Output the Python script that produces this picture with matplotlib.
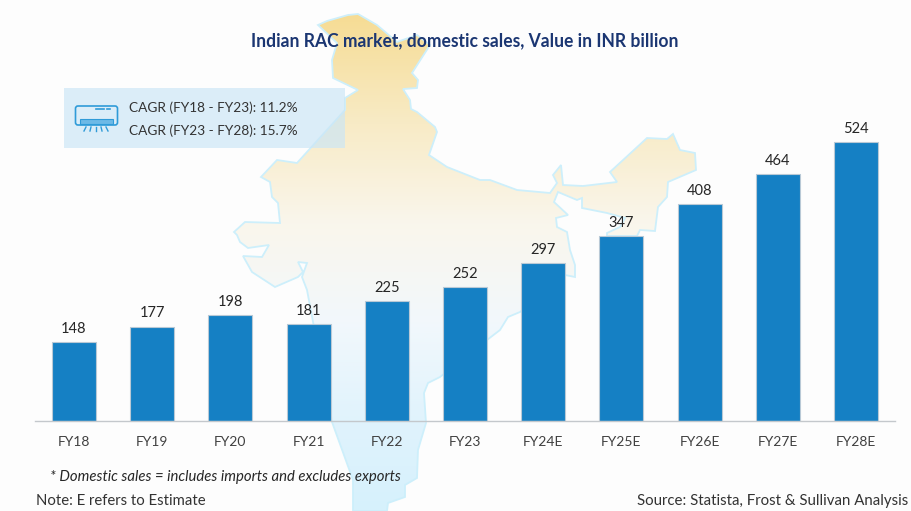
#!/usr/bin/env python3
"""Indian RAC market bar chart drawn over a faded map outline."""

import numpy as np
import matplotlib
matplotlib.use("Agg")
import matplotlib.pyplot as plt
from matplotlib.colors import LinearSegmentedColormap
from matplotlib.patches import Polygon, Rectangle, FancyBboxPatch

plt.rcParams["font.family"] = ["Lato", "DejaVu Sans"]

CATEGORIES = ["FY18", "FY19", "FY20", "FY21", "FY22", "FY23",
              "FY24E", "FY25E", "FY26E", "FY27E", "FY28E"]
VALUES = [148, 177, 198, 181, 225, 252, 297, 347, 408, 464, 524]

TITLE = "Indian RAC market, domestic sales, Value in INR billion"
CAGR_LINES = ["CAGR (FY18 - FY23): 11.2%", "CAGR (FY23 - FY28): 15.7%"]
FOOTNOTE = "* Domestic sales = includes imports and excludes exports"
NOTE = "Note: E refers to Estimate"
SOURCE = "Source: Statista, Frost & Sullivan Analysis"

# map outline, traced in image pixels
INDIA_X = [318, 327, 348, 358, 377, 397, 417, 430, 412, 418, 417, 403, 410, 411, 417,
           435, 437, 429, 447, 480, 490, 517, 550, 557, 553, 561, 563, 583, 617, 610,
           647, 667, 673, 680, 695, 696, 668, 667, 658, 655, 640, 637, 607, 607, 620,
           625, 607, 582, 582, 577, 558, 554, 568, 556, 557, 567, 570, 575, 575, 565,
           520, 508, 500, 487, 440, 428, 424, 426, 418, 417, 405, 405, 388, 387, 353,
           353, 332, 307, 302, 307, 298, 303, 298, 275, 252, 243, 262, 269, 248, 240,
           237, 234, 245, 280, 278, 272, 270, 261, 277, 297, 345, 345, 358, 333, 332,
           337]
INDIA_Y = [25, 21, 15, 14, 25, 42, 35, 45, 73, 80, 88, 89, 100, 109, 112,
           127, 132, 155, 167, 180, 180, 190, 193, 183, 175, 165, 185, 186, 182, 172,
           138, 139, 134, 150, 153, 170, 182, 197, 207, 231, 230, 236, 236, 233, 227,
           218, 213, 208, 198, 200, 192, 202, 215, 218, 227, 232, 250, 265, 277, 275,
           312, 317, 330, 340, 377, 383, 393, 423, 450, 478, 485, 497, 503, 511, 511,
           480, 422, 290, 277, 263, 262, 272, 277, 287, 272, 256, 257, 245, 248, 242,
           235, 232, 222, 223, 203, 197, 182, 177, 160, 163, 110, 98, 90, 78, 60,
           43]


def draw_map(bg):
    cmap = LinearSegmentedColormap.from_list(
        "map", [(0.0, "#F6DC94"), (0.22, "#F8EBC6"), (0.42, "#FAF6EC"),
                (0.62, "#F2F8FC"), (0.82, "#E0F3FC"), (1.0, "#D6F1FD")])
    grad = np.linspace(0, 1, 256).reshape(-1, 1)
    im = bg.imshow(grad, cmap=cmap, extent=(230, 700, 511, 14), aspect="auto", zorder=1)
    shape = Polygon(np.column_stack([INDIA_X, INDIA_Y]), closed=True, transform=bg.transData,
                    facecolor="none", edgecolor="#CDEFFB", linewidth=1.3, zorder=2)
    bg.add_patch(shape)
    im.set_clip_path(shape)


def draw_ac_icon(bg):
    c = "#2F9BD8"
    bg.add_patch(FancyBboxPatch((75.5, 106), 42, 19, boxstyle="round,pad=0,rounding_size=2.5",
                                facecolor="none", edgecolor=c, linewidth=1.2, zorder=4))
    bg.add_patch(Rectangle((80, 119), 33, 5, facecolor="#6DB9E6", edgecolor=c, linewidth=0.8, zorder=4))
    bg.plot([96, 104], [109.5, 109.5], color=c, linewidth=1.2, zorder=4)
    bg.plot([107, 110], [109.5, 109.5], color=c, linewidth=1.2, zorder=4)
    for x0, x1 in [(86, 84), (91, 90), (96, 96), (101, 102), (106, 108)]:
        bg.plot([x0, x1], [127, 131], color=c, linewidth=1.0, zorder=4)


def main():
    fig = plt.figure(figsize=(9.11, 5.11), dpi=100, facecolor="#FDFDFD")

    bg = fig.add_axes([0, 0, 1, 1], zorder=0)
    bg.set_xlim(0, 911)
    bg.set_ylim(511, 0)
    bg.axis("off")
    draw_map(bg)
    bg.add_patch(Rectangle((64, 88), 281, 60, facecolor="#CBE6F6", alpha=0.68,
                           edgecolor="none", zorder=3))
    draw_ac_icon(bg)

    # axes spans 35-895 px across, baseline at 420.5 px, 0.5307 px per unit
    ax = fig.add_axes([34.9 / 911, (511 - 420.5) / 511, 860.2 / 911, 318.4 / 511], zorder=1)
    ax.patch.set_alpha(0)
    xs = np.arange(len(CATEGORIES))
    bars = ax.bar(xs, VALUES, width=0.5627, color="#1580C4", edgecolor="#B9C9D6", linewidth=0.8)
    ax.bar_label(bars, labels=[str(v) for v in VALUES], padding=4.5, fontsize=10.5, color="#262626")
    ax.set_xlim(-0.5, 10.5)
    ax.set_ylim(0, 600)
    ax.set_xticks(xs, CATEGORIES)
    ax.tick_params(axis="x", length=0, pad=11.5, labelsize=10, labelcolor="#404040")
    ax.set_yticks([])
    for side in ["top", "left", "right"]:
        ax.spines[side].set_visible(False)
    ax.spines["bottom"].set_color("#C4C8CC")
    ax.spines["bottom"].set_linewidth(1.0)

    fig.text(465 / 911, 1 - 40.5 / 511, TITLE, ha="center", va="center", fontsize=12.65,
             fontweight="bold", color="#1B3672")
    fig.text(129 / 911, 1 - 107.5 / 511, CAGR_LINES[0], ha="left", va="center", fontsize=9.8, color="#333333")
    fig.text(129 / 911, 1 - 131 / 511, CAGR_LINES[1], ha="left", va="center", fontsize=9.8, color="#333333")
    fig.text(50 / 911, 1 - 476.5 / 511, FOOTNOTE, ha="left", va="center", fontsize=10.7,
             fontstyle="italic", color="#262626")
    fig.text(36 / 911, 1 - 500.5 / 511, NOTE, ha="left", va="center", fontsize=10.75, color="#333333")
    fig.text(908 / 911, 1 - 500.5 / 511, SOURCE, ha="right", va="center", fontsize=10.8, color="#333333")

    fig.savefig("out.png", dpi=100, facecolor=fig.get_facecolor())
    plt.close(fig)


if __name__ == "__main__":
    main()
